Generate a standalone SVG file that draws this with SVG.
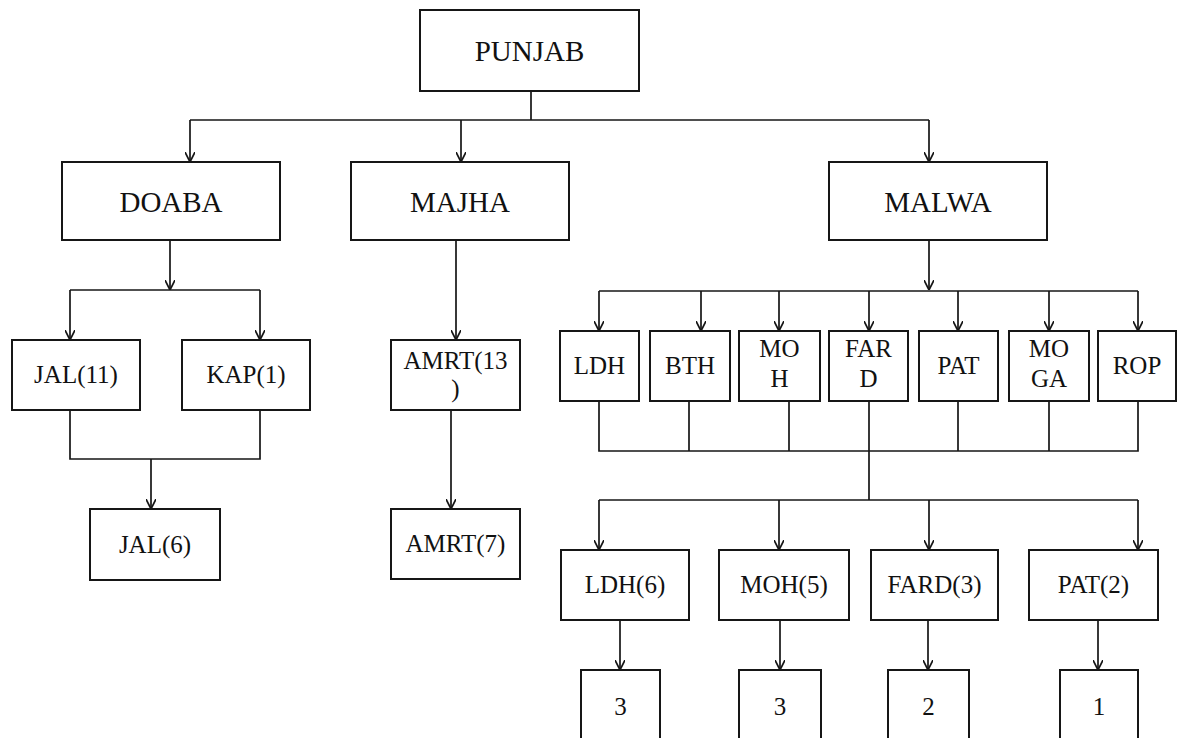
<svg xmlns="http://www.w3.org/2000/svg" width="1178" height="738" viewBox="0 0 1178 738">
  <style>
    .box { fill: #ffffff; stroke: #161616; stroke-width: 2; }
    .wire { fill: none; stroke: #161616; stroke-width: 1.7; }
    .head { font-family: "Liberation Serif", "Times New Roman", serif; font-size: 29px; fill: #111111; text-anchor: middle; }
    .lbl { font-family: "Liberation Serif", "Times New Roman", serif; font-size: 25px; fill: #111111; text-anchor: middle; }
  </style>
  <defs>
    <marker id="arrow" viewBox="0 0 10 10" refX="10" refY="5" markerWidth="10" markerHeight="10" markerUnits="userSpaceOnUse" orient="auto">
      <path d="M0,0 L10,5 L0,10" fill="none" stroke="#161616" stroke-width="1.7"/>
    </marker>
  </defs>
  <rect width="1178" height="738" fill="#ffffff"/>

  <!-- connectors -->
  <g id="connectors" class="wire">
    <!-- PUNJAB to regions -->
    <path d="M531,91 V120 M190,120 H929"/>
    <path d="M190,120 V162" marker-end="url(#arrow)"/>
    <path d="M461,120 V162" marker-end="url(#arrow)"/>
    <path d="M929,120 V162" marker-end="url(#arrow)"/>
    <!-- DOABA branch -->
    <path d="M170,240 V290" marker-end="url(#arrow)"/>
    <path d="M70,290 H260"/>
    <path d="M70,290 V340" marker-end="url(#arrow)"/>
    <path d="M260,290 V340" marker-end="url(#arrow)"/>
    <path d="M70,410 V459 H260 V410"/>
    <path d="M151,459 V509" marker-end="url(#arrow)"/>
    <!-- MAJHA branch -->
    <path d="M456,240 V340" marker-end="url(#arrow)"/>
    <path d="M451,410 V509" marker-end="url(#arrow)"/>
    <!-- MALWA branch -->
    <path d="M929,240 V290" marker-end="url(#arrow)"/>
    <path d="M599,291 H1138"/>
    <path d="M599,291 V331" marker-end="url(#arrow)"/>
    <path d="M701,291 V331" marker-end="url(#arrow)"/>
    <path d="M779,291 V331" marker-end="url(#arrow)"/>
    <path d="M869,291 V331" marker-end="url(#arrow)"/>
    <path d="M958,291 V331" marker-end="url(#arrow)"/>
    <path d="M1049,291 V331" marker-end="url(#arrow)"/>
    <path d="M1138,291 V331" marker-end="url(#arrow)"/>
    <path d="M599,401 V451 H1138 V401 M689,401 V451 M789,401 V451 M869,401 V500 M958,401 V451 M1049,401 V451"/>
    <path d="M599,500 H1138"/>
    <path d="M599,500 V550" marker-end="url(#arrow)"/>
    <path d="M779,500 V550" marker-end="url(#arrow)"/>
    <path d="M929,500 V550" marker-end="url(#arrow)"/>
    <path d="M1138,500 V550" marker-end="url(#arrow)"/>
    <path d="M620,620 V670" marker-end="url(#arrow)"/>
    <path d="M780,620 V670" marker-end="url(#arrow)"/>
    <path d="M928,620 V670" marker-end="url(#arrow)"/>
    <path d="M1098,620 V670" marker-end="url(#arrow)"/>
  </g>

  <!-- top level -->
  <g id="punjab"><rect class="box" x="420" y="10" width="219" height="81"/><text class="head" x="529.5" y="61">PUNJAB</text></g>

  <!-- regions -->
  <g id="doaba"><rect class="box" x="62" y="162" width="218" height="78"/><text class="head" x="171" y="212">DOABA</text></g>
  <g id="majha"><rect class="box" x="351" y="162" width="218" height="78"/><text class="head" x="460" y="212">MAJHA</text></g>
  <g id="malwa"><rect class="box" x="829" y="162" width="218" height="78"/><text class="head" x="938" y="212">MALWA</text></g>

  <!-- DOABA districts -->
  <g id="jal11"><rect class="box" x="12" y="340" width="128" height="70"/><text class="lbl" x="76" y="383">JAL(11)</text></g>
  <g id="kap1"><rect class="box" x="182" y="340" width="128" height="70"/><text class="lbl" x="246" y="383">KAP(1)</text></g>
  <g id="jal6"><rect class="box" x="90" y="509" width="130" height="71"/><text class="lbl" x="155" y="553">JAL(6)</text></g>

  <!-- MAJHA districts -->
  <g id="amrt13"><rect class="box" x="391" y="340" width="129" height="70"/><text class="lbl" x="455.5" y="369">AMRT(13</text><text class="lbl" x="455.5" y="397">)</text></g>
  <g id="amrt7"><rect class="box" x="391" y="509" width="129" height="70"/><text class="lbl" x="455.5" y="552">AMRT(7)</text></g>

  <!-- MALWA districts -->
  <g id="ldh"><rect class="box" x="560" y="331" width="79" height="70"/><text class="lbl" x="599.5" y="374">LDH</text></g>
  <g id="bth"><rect class="box" x="650" y="331" width="80" height="70"/><text class="lbl" x="690" y="374">BTH</text></g>
  <g id="moh"><rect class="box" x="739" y="331" width="81" height="70"/><text class="lbl" x="779.5" y="357">MO</text><text class="lbl" x="779.5" y="387">H</text></g>
  <g id="fard"><rect class="box" x="829" y="331" width="79" height="70"/><text class="lbl" x="868.5" y="357">FAR</text><text class="lbl" x="868.5" y="387">D</text></g>
  <g id="pat"><rect class="box" x="919" y="331" width="79" height="70"/><text class="lbl" x="958.5" y="374">PAT</text></g>
  <g id="moga"><rect class="box" x="1009" y="331" width="80" height="70"/><text class="lbl" x="1049" y="357">MO</text><text class="lbl" x="1049" y="387">GA</text></g>
  <g id="rop"><rect class="box" x="1098" y="331" width="78" height="70"/><text class="lbl" x="1137" y="374">ROP</text></g>

  <!-- selected districts -->
  <g id="ldh6"><rect class="box" x="561" y="550" width="128" height="70"/><text class="lbl" x="625" y="593">LDH(6)</text></g>
  <g id="moh5"><rect class="box" x="719" y="550" width="130" height="70"/><text class="lbl" x="784" y="593">MOH(5)</text></g>
  <g id="fard3"><rect class="box" x="871" y="550" width="127" height="70"/><text class="lbl" x="934.5" y="593">FARD(3)</text></g>
  <g id="pat2"><rect class="box" x="1029" y="550" width="129" height="70"/><text class="lbl" x="1093.5" y="593">PAT(2)</text></g>

  <!-- counts -->
  <g id="cnt-ldh"><rect class="box" x="581" y="670" width="79" height="90"/><text class="lbl" x="620.5" y="715">3</text></g>
  <g id="cnt-moh"><rect class="box" x="739" y="670" width="82" height="90"/><text class="lbl" x="780" y="715">3</text></g>
  <g id="cnt-fard"><rect class="box" x="888" y="670" width="81" height="90"/><text class="lbl" x="928.5" y="715">2</text></g>
  <g id="cnt-pat"><rect class="box" x="1060" y="670" width="78" height="90"/><text class="lbl" x="1099" y="715">1</text></g>
</svg>
